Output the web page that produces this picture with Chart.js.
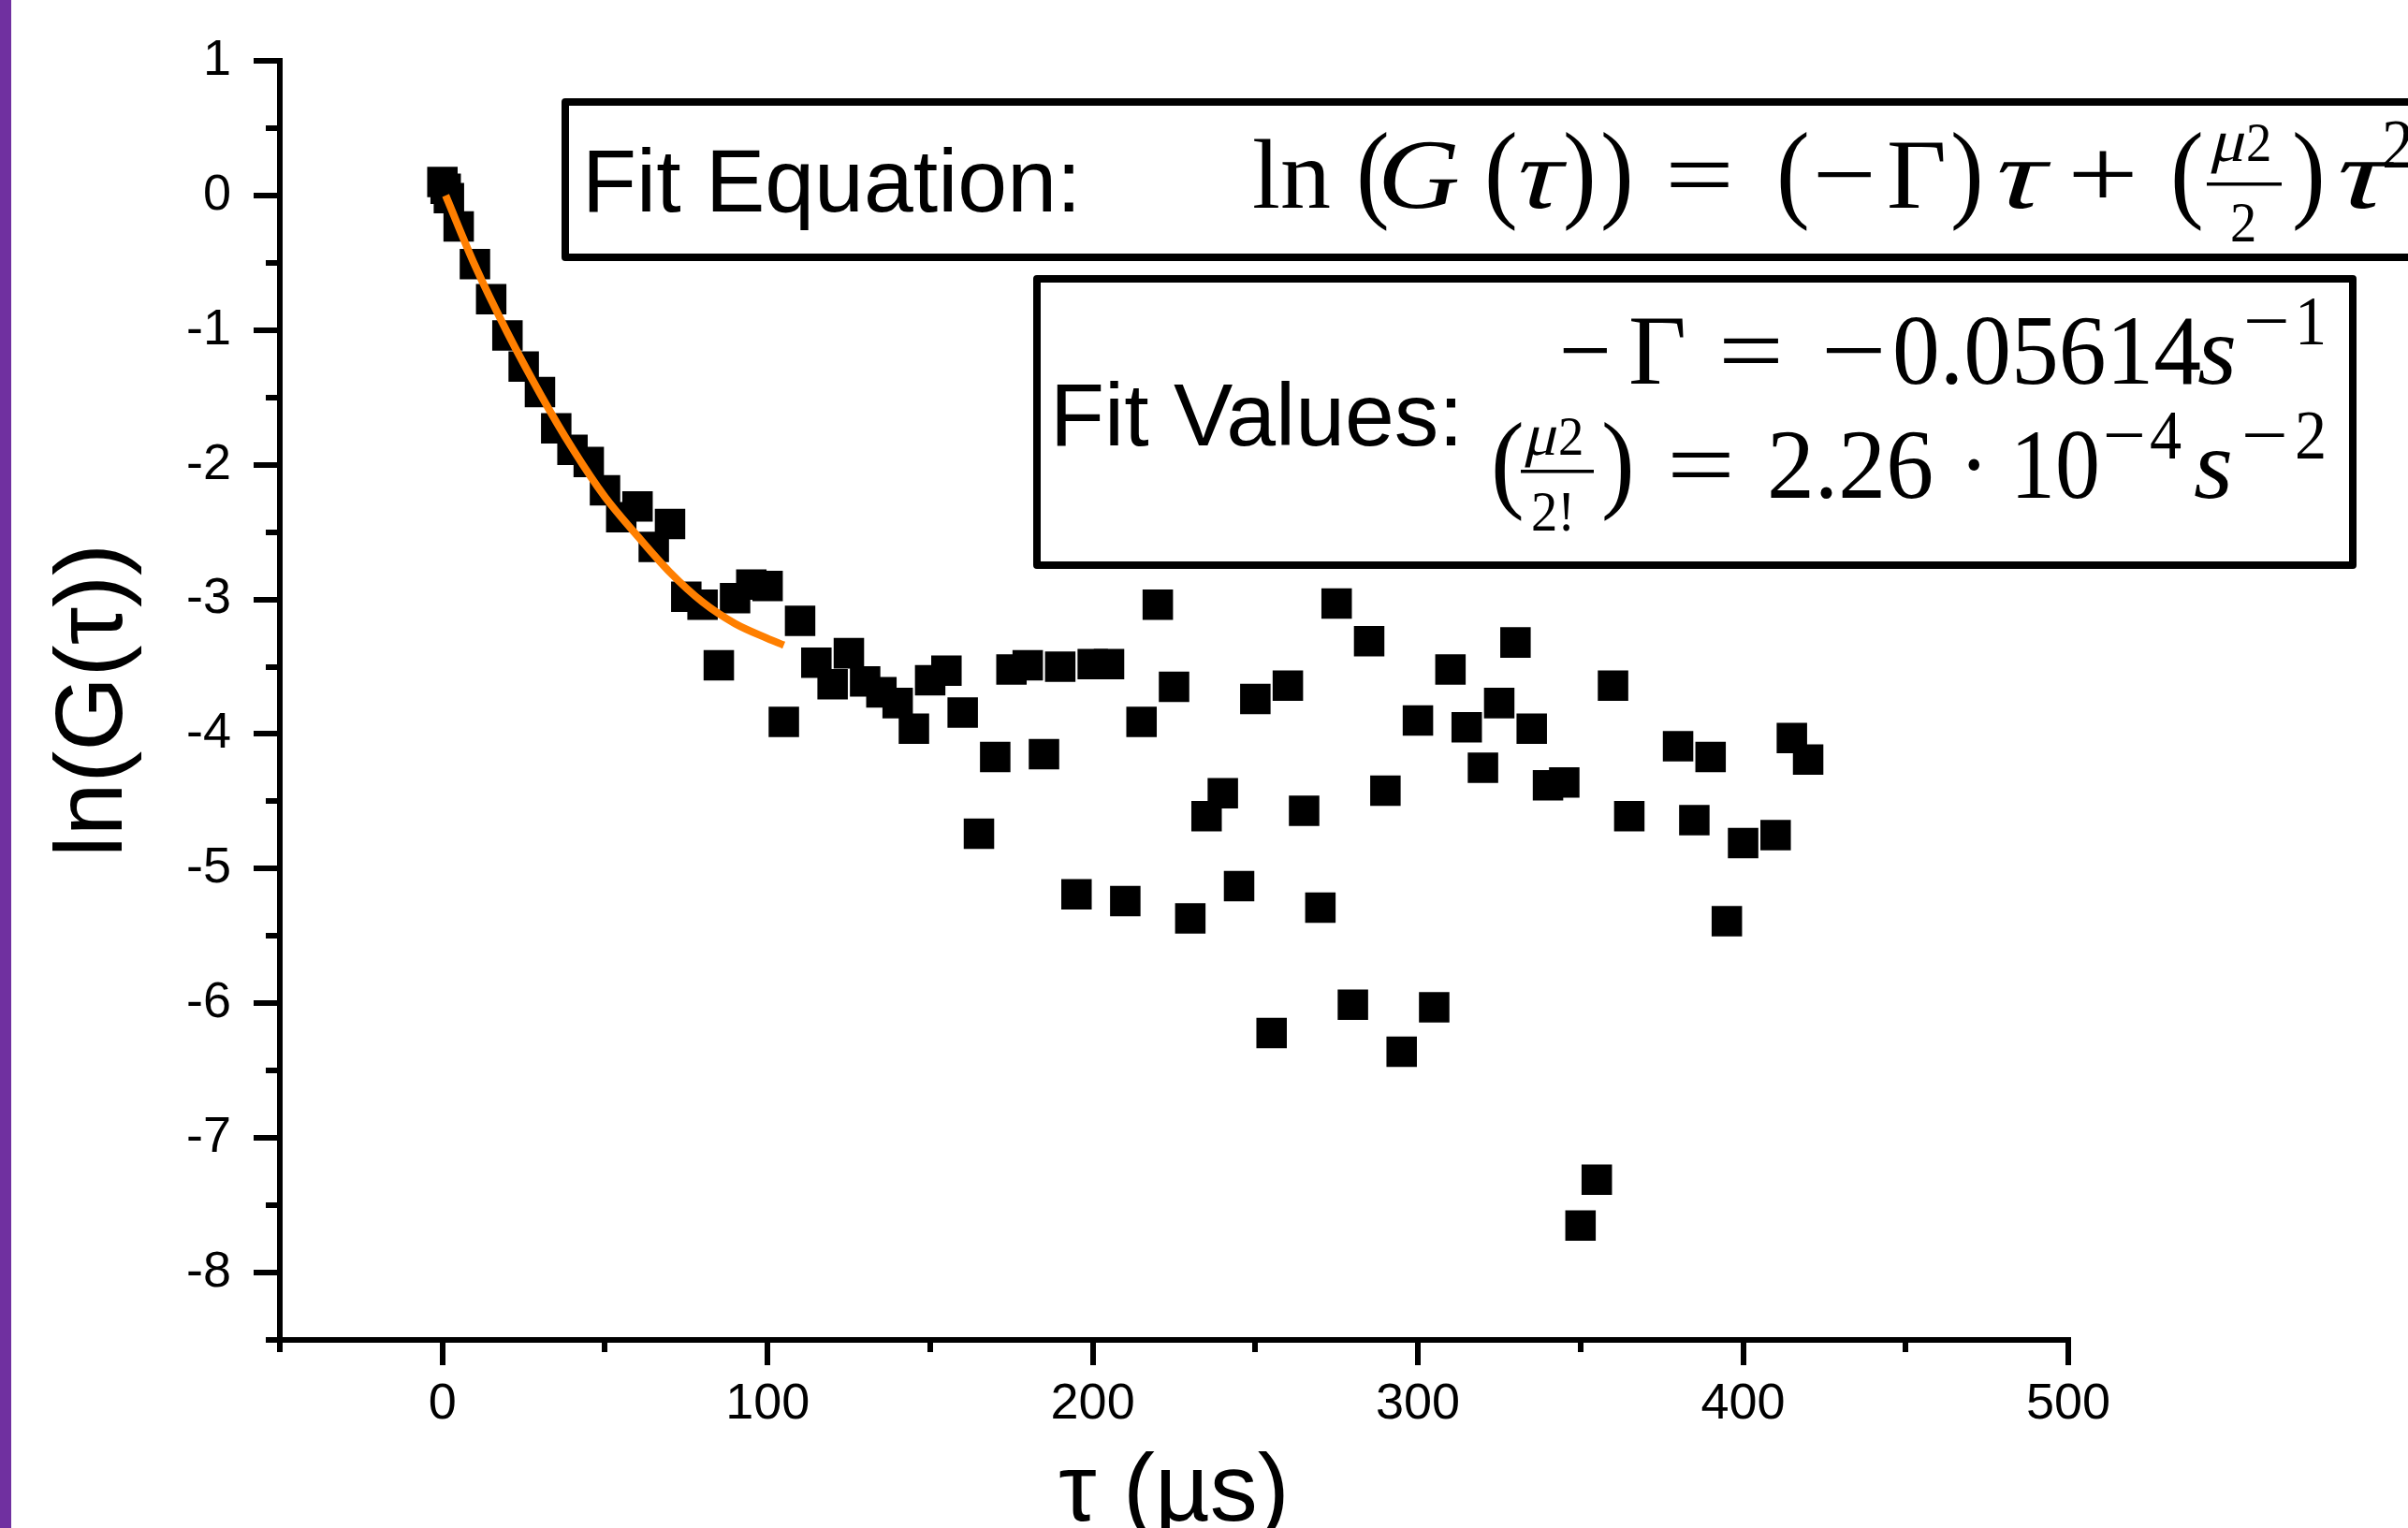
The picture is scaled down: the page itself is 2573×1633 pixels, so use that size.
<!DOCTYPE html>
<html lang="en">
<head>
    <meta charset="UTF-8">
    <title>ln(G(τ)) versus τ</title>
    <script src="https://cdn.jsdelivr.net/npm/chart.js"></script>
    <style>
        html, body {
            margin: 0;
            padding: 0;
            background: white;
            overflow: hidden;
        }
        canvas {
            display: block;
        }
    </style>
</head>
<body>

    <canvas id="fitChart" width="2573" height="1633"></canvas>

    <script>
        // measured points: delay tau (µs) and ln(G(tau))
        const tauUs = [0, 1, 2, 5, 10, 15, 20, 25, 30, 35, 40, 45, 50, 55, 60, 65, 70, 75, 80, 85,
            90, 95, 100, 105, 110, 115, 120, 125, 130, 135, 140, 145, 150, 155, 160, 165, 170, 175, 180, 185,
            190, 195, 200, 205, 210, 215, 220, 225, 230, 235, 240, 245, 250, 255, 260, 265, 270, 275, 280, 285,
            290, 295, 300, 305, 310, 315, 320, 325, 330, 335, 340, 345, 350, 355, 360, 365,
            380, 385, 390, 395, 400, 410, 415, 420];
        const lnG = [0.10, 0.05, -0.02, -0.23, -0.51, -0.77, -1.04, -1.27, -1.46, -1.73, -1.89, -1.98, -2.19, -2.39, -2.31, -2.61, -2.44, -2.98, -3.04, -3.49,
            -2.99, -2.89, -2.90, -3.91, -3.16, -3.47, -3.63, -3.40, -3.61, -3.69, -3.77, -3.96, -3.60, -3.53, -3.84, -4.74, -4.17, -3.52, -3.49, -4.15,
            -3.50, -5.19, -3.48, -3.48, -5.24, -3.91, -3.04, -3.65, -5.37, -4.61, -4.44, -5.13, -3.74, -6.22, -3.64, -4.57, -5.29, -3.03, -6.01, -3.31,
            -4.42, -6.36, -3.90, -6.03, -3.52, -3.95, -4.25, -3.77, -3.32, -3.96, -4.38, -4.36, -7.65, -7.31, -3.64, -4.61,
            -4.09, -4.64, -4.17, -5.39, -4.81, -4.75, -4.03, -4.19];

        // orange fit curve
        const fitTau = [1, 10, 20, 30, 40, 50, 60, 70, 80, 90, 100, 105];
        const fitLnG = [0.0, -0.52, -1.02, -1.47, -1.88, -2.24, -2.53, -2.80, -3.02, -3.18, -3.29, -3.34];

        const xTicks = [0, 100, 200, 300, 400, 500];
        const xMinor = [-50, 50, 150, 250, 350, 450];
        const yTicks = [1, 0, -1, -2, -3, -4, -5, -6, -7, -8];
        const yMinor = [0.5, -0.5, -1.5, -2.5, -3.5, -4.5, -5.5, -6.5, -7.5, -8.5];

        const points = tauUs.map((t, i) => ({ x: t, y: lnG[i] }));
        const fitPoints = fitTau.map((t, i) => ({ x: t, y: fitLnG[i] }));

        // equation boxes (LaTeX pasted into the figure), drawn in canvas pixels
        // it = italic latin, sk = slanted greek (upright glyph sheared)
        const F = 106;
        const SX = 0.92;

        const eqTokens = [
            { t: 'ln', x: 1338, w: 84 },
            { t: '(', x: 1449, sz: 1.1 },
            { t: 'G', x: 1472, it: 1, w: 88 },
            { t: '(', x: 1586, sz: 1.1 },
            { t: 'τ', x: 1612, sk: 1, w: 52 },
            { t: ')', x: 1670, sz: 1.1 },
            { t: ')', x: 1710, sz: 1.1 },
            { t: '=', x: 1779, w: 74 },
            { t: '(', x: 1898, sz: 1.1 },
            { t: '−', x: 1937, w: 68 },
            { t: 'Γ', x: 2016, w: 64 },
            { t: ')', x: 2084, sz: 1.1 },
            { t: 'τ', x: 2122, sk: 1, w: 58 },
            { t: '+', x: 2209, w: 76 },
            { t: '(', x: 2319, sz: 1.1 },
            { t: 'μ', x: 2360, sk: 1, sz: 0.6, w: 38, dy: -50 },
            { t: '2', x: 2400, sz: 0.56, dy: -50 },
            { t: '2', x: 2383, sz: 0.58, dy: 36 },
            { t: ')', x: 2449, sz: 1.1 },
            { t: 'τ', x: 2486, sk: 1, w: 60 },
            { t: '2', x: 2545, sz: 0.7, dy: -43 }
        ];
        const gammaTokens = [
            { t: '−', x: 1666, w: 56 },
            { t: 'Γ', x: 1740, w: 62 },
            { t: '=', x: 1836, w: 70 },
            { t: '−', x: 1946, w: 70 },
            { t: '0.05614', x: 2022, w: 330 },
            { t: 's', x: 2348, it: 1, w: 42 },
            { t: '−', x: 2397, sz: 0.7, w: 50, dy: -42 },
            { t: '1', x: 2452, sz: 0.7, dy: -42 }
        ];
        const muTokens = [
            { t: '(', x: 1593, sz: 1.1 },
            { t: 'μ', x: 1627, sk: 1, sz: 0.6, w: 36, dy: -46 },
            { t: '2', x: 1665, sz: 0.56, dy: -46 },
            { t: '2!', x: 1636, sz: 0.58, dy: 35 },
            { t: ')', x: 1711, sz: 1.1 },
            { t: '=', x: 1781, w: 73 },
            { t: '2.26', x: 1888, w: 178 },
            { t: '·', x: 2093 },
            { t: '10', x: 2148, w: 96 },
            { t: '−', x: 2247, sz: 0.7, w: 46, dy: -42 },
            { t: '4', x: 2297, sz: 0.7, dy: -42 },
            { t: 's', x: 2344, it: 1, w: 42 },
            { t: '−', x: 2395, sz: 0.7, w: 50, dy: -42 },
            { t: '2', x: 2452, sz: 0.7, dy: -42 }
        ];

        function drawToken(ctx, tk, baseY) {
            let size = F * (tk.sz || 1);
            ctx.font = (tk.it ? 'italic ' : '') + size.toFixed(1) + 'px "Liberation Serif"';
            let nat = ctx.measureText(tk.t).width;
            let sx = tk.w ? tk.w / nat : SX;
            ctx.save();
            ctx.translate(tk.x, baseY + (tk.dy || 0));
            ctx.scale(sx, 1);
            if (tk.sk) ctx.transform(1, 0, -0.22, 1, 0, 0);
            ctx.fillText(tk.t, 0, 0);
            ctx.restore();
        }

        const figureExtras = {
            id: 'figureExtras',
            beforeDraw(chart) {
                let ctx = chart.ctx;
                ctx.save();
                ctx.fillStyle = '#7030A0';  // slide edge on the left
                ctx.fillRect(0, 0, 12, chart.height);
                ctx.restore();
            },
            afterDraw(chart) {
                let ctx = chart.ctx;
                let xs = chart.scales.x;
                let ys = chart.scales.y;
                let area = chart.chartArea;

                // minor ticks
                ctx.save();
                ctx.strokeStyle = 'black';
                ctx.lineWidth = 6;
                ctx.lineCap = 'butt';
                ctx.beginPath();
                xMinor.forEach(v => {
                    let px = Math.round(xs.getPixelForValue(v));
                    ctx.moveTo(px, area.bottom);
                    ctx.lineTo(px, area.bottom + 13);
                });
                yMinor.forEach(v => {
                    let py = Math.round(ys.getPixelForValue(v));
                    ctx.moveTo(area.left, py);
                    ctx.lineTo(area.left - 15, py);
                });
                ctx.stroke();
                ctx.restore();

                // the two boxes
                ctx.save();
                ctx.lineWidth = 8;
                ctx.lineJoin = 'round';
                ctx.strokeStyle = 'black';
                ctx.fillStyle = 'white';
                ctx.fillRect(604, 109, 2000, 166);
                ctx.strokeRect(604, 109, 2000, 166);
                ctx.fillRect(1108, 298, 1406, 306);
                ctx.strokeRect(1108, 298, 1406, 306);

                ctx.fillStyle = 'black';
                ctx.textAlign = 'left';
                ctx.textBaseline = 'alphabetic';
                ctx.font = '95px "Liberation Sans"';
                ctx.fillText('Fit Equation:', 622, 226);
                ctx.fillText('Fit Values:', 1122, 476);

                eqTokens.forEach(tk => drawToken(ctx, tk, 222));
                gammaTokens.forEach(tk => drawToken(ctx, tk, 410));
                muTokens.forEach(tk => drawToken(ctx, tk, 532));

                // fraction bars
                ctx.fillRect(2358, 195, 80, 3.5);
                ctx.fillRect(1625, 502, 78, 3.5);
                ctx.restore();
            }
        };

        Chart.defaults.font.family = '"Liberation Sans", Arial, sans-serif';
        Chart.defaults.color = '#000';

        let ctx = document.getElementById('fitChart').getContext('2d');
        let fitChart = new Chart(ctx, {
            type: 'scatter',
            data: {
                datasets: [
                    {
                        label: 'Fit',
                        data: fitPoints,
                        showLine: true,
                        borderColor: '#FF7F00',
                        borderWidth: 8,
                        pointRadius: 0,
                        cubicInterpolationMode: 'monotone',
                        fill: false
                    },
                    {
                        label: 'ln(G(τ))',
                        data: points,
                        pointStyle: 'rect',
                        pointRadius: 23,
                        pointBackgroundColor: 'black',
                        pointBorderColor: 'black',
                        pointBorderWidth: 0
                    }
                ]
            },
            options: {
                responsive: false,
                devicePixelRatio: 1,
                animation: false,
                events: [],
                layout: { padding: { left: 0, top: 65, right: 363, bottom: 0 } },
                plugins: {
                    legend: { display: false },
                    tooltip: { enabled: false }
                },
                scales: {
                    x: {
                        type: 'linear',
                        min: -50,
                        max: 500,
                        afterBuildTicks: scale => { scale.ticks = xTicks.map(v => ({ value: v })); },
                        afterFit: scale => { scale.height = 201; },
                        grid: { display: true, drawOnChartArea: false, drawTicks: true, tickLength: 27, tickWidth: 6, tickColor: 'black', lineWidth: 6 },
                        border: { display: true, color: 'black', width: 6 },
                        ticks: { font: { size: 54 }, padding: 10, color: 'black', maxRotation: 0 },
                        title: {
                            display: true,
                            text: 'τ (µs)',
                            font: { size: 102, lineHeight: 0.71 },
                            padding: 0,
                            color: 'black'
                        }
                    },
                    y: {
                        type: 'linear',
                        min: -8.5,
                        max: 1,
                        afterBuildTicks: scale => { scale.ticks = yTicks.map(v => ({ value: v })); },
                        afterFit: scale => { scale.width = 299; },
                        grid: { display: true, drawOnChartArea: false, drawTicks: true, tickLength: 28, tickWidth: 6, tickColor: 'black', lineWidth: 6 },
                        border: { display: true, color: 'black', width: 6 },
                        ticks: { font: { size: 54 }, padding: 24, color: 'black' },
                        title: {
                            display: true,
                            text: 'ln(G(τ))',
                            font: { size: 102, lineHeight: 1 },
                            padding: { top: 51, bottom: 0 },
                            color: 'black'
                        }
                    }
                }
            },
            plugins: [figureExtras]
        });
    </script>
</body>
</html>
